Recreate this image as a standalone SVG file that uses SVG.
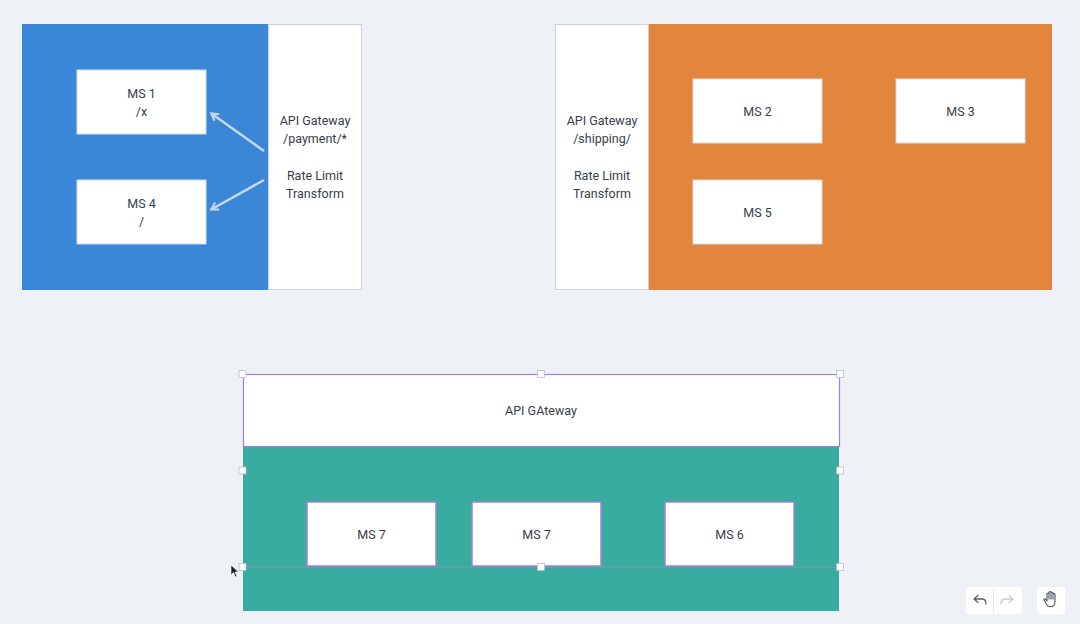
<svg xmlns="http://www.w3.org/2000/svg" width="1080" height="624" viewBox="0 0 1080 624">
<defs>
<style>
.t{font-family:Roboto,"Liberation Sans",sans-serif;font-size:12.5px;fill:#363e4a;text-anchor:middle}
.ms{fill:#ffffff;stroke:#d5dbe2;stroke-width:1}
.msp{fill:#ffffff;stroke:#a57fd6;stroke-width:1.5}
.gw{fill:#ffffff;stroke:#ccd3db;stroke-width:1}
.h{fill:#ffffff;stroke:#b8bec6;stroke-width:0.8}
.ar{stroke:#c9d6e8;stroke-width:2.5;fill:none}
</style>
<marker id="ah" viewBox="0 0 10 10" refX="7" refY="5" markerWidth="4" markerHeight="4" orient="auto">
<path d="M1,1 L8,5 L1,9" fill="none" stroke="#c9d6e8" stroke-width="2"/>
</marker>
</defs>
<rect width="1080" height="624" fill="#eef2f6"/>

<g id="payment-group">
<rect x="22" y="24" width="247" height="266" fill="#3a87d8"/>
<rect class="gw" x="268.5" y="24.5" width="93" height="265"/>
<text class="t" x="315" y="125">API Gateway</text>
<text class="t" x="315" y="143">/payment/*</text>
<text class="t" x="315" y="180">Rate Limit</text>
<text class="t" x="315" y="198">Transform</text>
</g>
<g id="ms1">
<rect class="ms" x="77" y="70" width="129" height="64"/>
<text class="t" x="141.5" y="98">MS 1</text>
<text class="t" x="141.5" y="116">/x</text>
</g>
<g id="ms4">
<rect class="ms" x="77" y="180" width="129" height="64"/>
<text class="t" x="141.5" y="208">MS 4</text>
<text class="t" x="141.5" y="226">/</text>
</g>

<g id="shipping-group">
<rect x="649" y="24" width="403" height="266" fill="#e3863d"/>
<rect class="gw" x="555.5" y="24.5" width="93" height="265"/>
<text class="t" x="602" y="125">API Gateway</text>
<text class="t" x="602" y="143">/shipping/</text>
<text class="t" x="602" y="180">Rate Limit</text>
<text class="t" x="602" y="198">Transform</text>
</g>
<g id="ms2">
<rect class="ms" x="693" y="79" width="129" height="64"/>
<text class="t" x="757.5" y="116">MS 2</text>
</g>
<g id="ms3">
<rect class="ms" x="896" y="79" width="129" height="64"/>
<text class="t" x="960.5" y="116">MS 3</text>
</g>
<g id="ms5">
<rect class="ms" x="693" y="180" width="129" height="64"/>
<text class="t" x="757.5" y="217">MS 5</text>
</g>

<g id="bottom-group">
<rect x="243" y="447" width="596" height="164" fill="#38ac9e"/>
<rect x="243.5" y="374.5" width="596" height="72" fill="#ffffff" stroke="#a57fd6" stroke-width="1.2"/>
<text class="t" x="541" y="415">API GAteway</text>
</g>
<g id="ms7a">
<rect class="msp" x="307" y="502" width="129" height="64"/>
<text class="t" x="371.5" y="539">MS 7</text>
</g>
<g id="ms7b">
<rect class="msp" x="472" y="502" width="129" height="64"/>
<text class="t" x="536.5" y="539">MS 7</text>
</g>
<g id="ms6">
<rect class="msp" x="665" y="502" width="129" height="64"/>
<text class="t" x="729.5" y="539">MS 6</text>
</g>

<g id="selection">
<line x1="243" y1="567" x2="840" y2="567" stroke="#9a86d0" stroke-width="0.8"/>
<rect class="h" x="239" y="370.5" width="7" height="7"/>
<rect class="h" x="537.5" y="370.5" width="7" height="7"/>
<rect class="h" x="836.5" y="370.5" width="7" height="7"/>
<rect class="h" x="239" y="467" width="7" height="7"/>
<rect class="h" x="836.5" y="467" width="7" height="7"/>
<rect class="h" x="239" y="563.5" width="7" height="7"/>
<rect class="h" x="537.5" y="563.5" width="7" height="7"/>
<rect class="h" x="836.5" y="563.5" width="7" height="7"/>
</g>

<g id="connectors">
<line class="ar" x1="264" y1="151" x2="212" y2="114" marker-end="url(#ah)"/>
<line class="ar" x1="264" y1="180" x2="212" y2="209" marker-end="url(#ah)"/>
</g>

<g id="cursor">
<path d="M231,565 L231,575 L233.5,572.5 L235.5,577 L237,576.3 L235,572 L238.5,572 Z" fill="#222" stroke="#fff" stroke-width="0.6"/>
</g>

<g id="toolbar">
<rect x="966" y="587" width="56" height="27" rx="3" fill="#ffffff"/>
<line x1="993.5" y1="588" x2="993.5" y2="613" stroke="#e6e9ee" stroke-width="1"/>
<path d="M974,599 L978,595.5 M974,599 L978,602.5 M974,599 L982,599 Q986,599 986,604" fill="none" stroke="#5a6270" stroke-width="1.3" stroke-linecap="round"/>
<path d="M1013,599 L1009,595.5 M1013,599 L1009,602.5 M1013,599 L1005,599 Q1001,599 1001,604" fill="none" stroke="#c6ccd4" stroke-width="1.3" stroke-linecap="round"/>
<rect x="1037" y="587" width="28" height="27" rx="3" fill="#ffffff"/>
<path d="M1047,605 L1044,600 Q1043.5,598.5 1045,598.8 L1047,601 L1047,594 Q1047,593 1048,593 Q1049,593 1049,594 L1049,599 L1049,592.5 Q1049,591.5 1050,591.5 Q1051,591.5 1051,592.5 L1051,599 L1051,593 Q1051,592 1052,592 Q1053,592 1053,593 L1053,599 L1053,594.5 Q1053,593.5 1054,593.5 Q1055,593.5 1055,594.5 L1055,602 Q1055,606.5 1051,606.5 L1049,606.5 Q1048,606.5 1047,605 Z" fill="none" stroke="#4a525e" stroke-width="1.1" stroke-linejoin="round"/>
</g>
</svg>
